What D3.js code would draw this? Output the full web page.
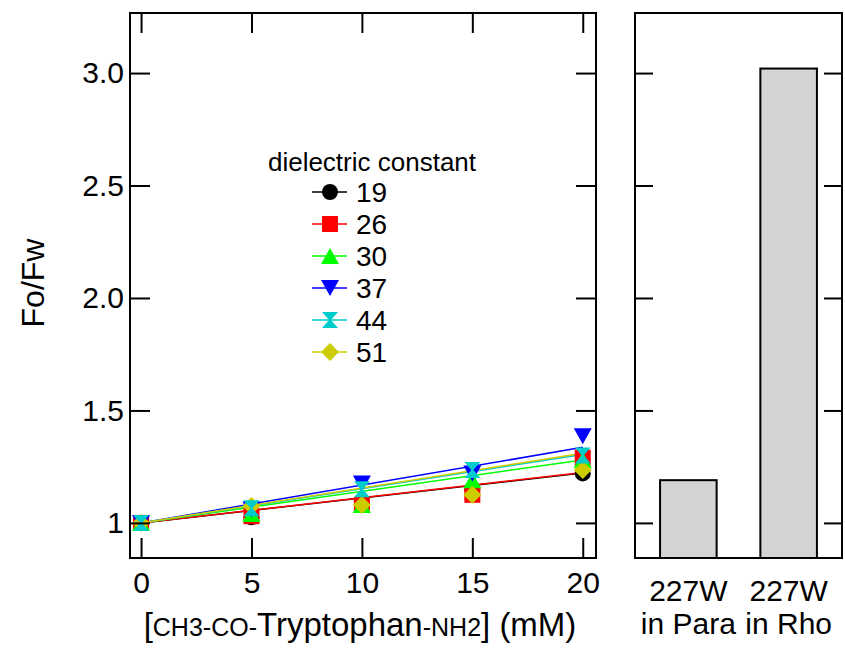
<!DOCTYPE html>
<html>
<head>
<meta charset="utf-8">
<script src="https://cdn.jsdelivr.net/npm/d3@7"></script>
<style>
  body { margin: 0; background: #fff; }
  text { font-family: "Liberation Sans", Arial, sans-serif; }
</style>
</head>
<body>
<svg id="canvas" width="845" height="650"></svg>
<script>
// data
const concentrations = [0, 5, 10, 15, 20];
const dielectric = ['19', '26', '30', '37', '44', '51'];
const series19 = [1.0, 1.025, 1.08, 1.15, 1.22];
const series26 = [1.0, 1.03, 1.08, 1.125, 1.29];
const series30 = [1.0, 1.04, 1.08, 1.19, 1.28];
const series37 = [1.0, 1.06, 1.175, 1.22, 1.385];
const series44 = [1.0, 1.065, 1.15, 1.235, 1.30];
const series51 = [1.0, 1.075, 1.08, 1.125, 1.235];
// fitted slopes (Fo/Fw = 1 + K[Q])
const fitSlopes = [0.0111, 0.0112, 0.0140, 0.0168, 0.0152, 0.0155];
const seriesColors = ['#000000', '#ff0000', '#00ff00', '#0000ff', '#00cccc', '#cccc00'];
const seriesShapes = ['circle', 'square', 'triUp', 'triDown', 'hourglass', 'diamond'];
const drawOrder = [0, 1, 2, 3, 5, 4];

const barLabels = [['227W', 'in Para'], ['227W', 'in Rho']];
const barValues = [1.19, 3.02];

const yTicks = [1, 1.5, 2, 2.5, 3];
const xTicks = [0, 5, 10, 15, 20];

const allSeries = [series19, series26, series30, series37, series44, series51];

const canvas = d3.select('#canvas');

const leftPanel = { x0: 130, x1: 596 };
const rightPanel = { x0: 635, x1: 842 };
const plotTop = 13, plotBottom = 558;

const x = d3.scaleLinear().domain([-0.5, 20.6]).range([leftPanel.x0, leftPanel.x1]);
const y = d3.scaleLinear().domain([0.844, 3.267]).range([plotBottom, plotTop]);

const yFormat = (d) => (d === 1 ? '1' : d3.format('.1f')(d));

const shapePath = (shape) => {
  if (shape === 'square') return 'M-8,-8L8,-8L8,8L-8,8Z';
  if (shape === 'triUp') return 'M0,-8L9,8L-9,8Z';
  if (shape === 'triDown') return 'M-9,-8L9,-8L0,8Z';
  if (shape === 'hourglass') return 'M-8,-8L8,-8L1,0L8,8L-8,8L-1,0Z';
  if (shape === 'diamond') return 'M0,-9L9,0L0,9L-9,0Z';
  return d3.symbol(d3.symbolCircle, 200)();
};

// ---- left panel ----
const lp = canvas.append('g');

// fitted lines
lp.selectAll('.fit')
  .data(fitSlopes)
  .enter()
  .append('line')
  .attr('class', 'fit')
  .attr('x1', x(0))
  .attr('y1', y(1))
  .attr('x2', x(20))
  .attr('y2', (k) => y(1 + k * 20))
  .attr('stroke', (k, i) => seriesColors[i])
  .attr('stroke-width', 1.5);

drawOrder.forEach((i) => {
  lp.selectAll('.pt' + i)
    .data(allSeries[i])
    .enter()
    .append('path')
    .attr('class', 'pt' + i)
    .attr('d', shapePath(seriesShapes[i]))
    .attr('transform', (v, j) => 'translate(' + x(concentrations[j]) + ',' + y(v) + ')')
    .attr('fill', seriesColors[i]);
});

const tickStyle = (g) => {
  g.select('.domain').remove();
  g.selectAll('.tick line').attr('stroke', '#000').attr('stroke-width', 2);
  g.selectAll('.tick text').attr('font-size', 30).attr('fill', '#000')
    .style('font-family', '"Liberation Sans", Arial, sans-serif');
};

lp.append('g')
  .attr('transform', 'translate(' + leftPanel.x0 + ',0)')
  .call(d3.axisLeft(y).tickValues(yTicks).tickFormat(yFormat).tickSize(-20).tickPadding(6))
  .call(tickStyle);
lp.append('g')
  .attr('transform', 'translate(' + leftPanel.x1 + ',0)')
  .call(d3.axisRight(y).tickValues(yTicks).tickFormat('').tickSize(-20))
  .call(tickStyle);
lp.append('g')
  .attr('transform', 'translate(0,' + plotBottom + ')')
  .call(d3.axisBottom(x).tickValues(xTicks).tickFormat(d3.format('d')).tickSize(-20).tickPadding(14))
  .call(tickStyle);
lp.append('g')
  .attr('transform', 'translate(0,' + plotTop + ')')
  .call(d3.axisTop(x).tickValues(xTicks).tickFormat('').tickSize(-20))
  .call(tickStyle);

lp.append('rect')
  .attr('x', leftPanel.x0).attr('y', plotTop)
  .attr('width', leftPanel.x1 - leftPanel.x0).attr('height', plotBottom - plotTop)
  .attr('fill', 'none').attr('stroke', '#000').attr('stroke-width', 2);

// legend
const legend = lp.append('g');
legend.append('text')
  .attr('x', 372).attr('y', 171)
  .attr('text-anchor', 'middle')
  .attr('font-size', 26)
  .text('dielectric constant');

const rows = legend.selectAll('.row')
  .data(dielectric)
  .enter()
  .append('g')
  .attr('class', 'row')
  .attr('transform', (d, i) => 'translate(330,' + (192 + i * 32) + ')');
rows.append('line')
  .attr('x1', -18).attr('x2', 17)
  .attr('stroke', (d, i) => seriesColors[i])
  .attr('stroke-width', 1.5);
rows.append('path')
  .attr('d', (d, i) => shapePath(seriesShapes[i]))
  .attr('fill', (d, i) => seriesColors[i]);
rows.append('text')
  .attr('x', 26).attr('y', 10)
  .attr('font-size', 28)
  .text((d) => d);

// axis titles
canvas.append('text')
  .attr('transform', 'translate(44,283) rotate(-90)')
  .attr('text-anchor', 'middle')
  .attr('font-size', 32)
  .text('Fo/Fw');

const xTitle = canvas.append('text')
  .attr('x', 360).attr('y', 636)
  .attr('text-anchor', 'middle')
  .attr('font-size', 33);
xTitle.append('tspan').text('[');
xTitle.append('tspan').attr('font-size', 25).text('CH3-CO-');
xTitle.append('tspan').text('Tryptophan');
xTitle.append('tspan').attr('font-size', 25).text('-NH2');
xTitle.append('tspan').text('] (mM)');

// ---- right panel ----
const rp = canvas.append('g');
const xb = d3.scaleBand()
  .domain(d3.range(barValues.length))
  .range([rightPanel.x0, rightPanel.x1])
  .paddingInner(0.436)
  .paddingOuter(0.25);

rp.selectAll('.bar')
  .data(barValues)
  .enter()
  .append('rect')
  .attr('class', 'bar')
  .attr('x', (d, i) => xb(i))
  .attr('width', xb.bandwidth())
  .attr('y', (d) => y(d))
  .attr('height', (d) => plotBottom - y(d))
  .attr('fill', '#d3d3d3')
  .attr('stroke', '#000')
  .attr('stroke-width', 2);

rp.append('g')
  .attr('transform', 'translate(' + rightPanel.x0 + ',0)')
  .call(d3.axisLeft(y).tickValues(yTicks).tickFormat('').tickSize(-18))
  .call(tickStyle);
rp.append('g')
  .attr('transform', 'translate(' + rightPanel.x1 + ',0)')
  .call(d3.axisRight(y).tickValues(yTicks).tickFormat('').tickSize(-18))
  .call(tickStyle);

rp.append('rect')
  .attr('x', rightPanel.x0).attr('y', plotTop)
  .attr('width', rightPanel.x1 - rightPanel.x0).attr('height', plotBottom - plotTop)
  .attr('fill', 'none').attr('stroke', '#000').attr('stroke-width', 2);

const barText = rp.selectAll('.blabel')
  .data(barLabels)
  .enter()
  .append('text')
  .attr('class', 'blabel')
  .attr('text-anchor', 'middle')
  .attr('font-size', 30);
barText.append('tspan')
  .attr('x', (d, i) => xb(i) + xb.bandwidth() / 2)
  .attr('y', 601)
  .text((d) => d[0]);
barText.append('tspan')
  .attr('x', (d, i) => xb(i) + xb.bandwidth() / 2)
  .attr('y', 634)
  .text((d) => d[1]);
</script>
</body>
</html>
